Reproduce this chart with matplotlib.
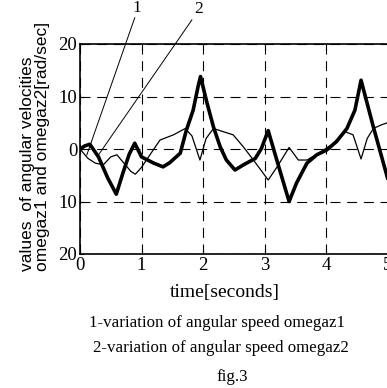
import matplotlib
matplotlib.use("Agg")
import matplotlib.pyplot as plt

# thick curve
t_thick = [0, 0.08, 0.16, 0.3, 0.45, 0.59, 0.7, 0.8, 0.89, 1.0, 1.2, 1.35, 1.46,
           1.63, 1.73, 1.84, 1.92, 1.96, 2.06, 2.17, 2.28, 2.38, 2.52, 2.66, 2.85,
           2.95, 3.06, 3.23, 3.40, 3.52, 3.69, 3.85, 4.01, 4.17, 4.34, 4.47, 4.57,
           4.77, 5.0]
w_thick = [0, 0.6, 0.9, -1.5, -5.5, -8.6, -4.5, -1.0, 1.1, -1.5, -2.7, -3.4, -2.6,
           -0.8, 3.6, 7.4, 11.9, 13.8, 9.0, 4.2, 0.4, -2.1, -4.0, -3.0, -1.8,
           0.1, 3.5, -3.3, -10.0, -6.5, -2.7, -1.1, -0.2, 1.4, 3.9, 7.4, 13.1,
           4.2, -5.5]

# thin curve
t_thin = [0, 0.13, 0.25, 0.38, 0.5, 0.6, 0.7, 0.83, 0.9, 1.0, 1.08, 1.3, 1.52,
          1.71, 1.82, 1.95, 2.05, 2.17, 2.49, 2.65, 2.82, 3.06, 3.2, 3.40, 3.55,
          3.69, 3.88, 4.09, 4.31, 4.44, 4.57, 4.67, 4.77, 4.9, 5.0]
w_thin = [0, -1.8, -2.7, -3.0, -1.5, -1.1, -2.5, -4.3, -4.8, -3.5, -2.1, 1.7, 2.7,
          3.9, 2.5, -2.1, 2.0, 3.9, 2.7, 0.5, -2.1, -5.9, -3.5, 0.3, -2.1,
          -2.1, -0.8, 0.8, 3.3, 2.7, -1.9, 2.0, 3.9, 4.6, 5.0]

x_ticks = [0, 1, 2, 3, 4, 5]
y_ticks = [-20, -10, 0, 10, 20]
y_tick_labels = ["20", "10", "0", "10", "20"]

# leader lines: (label, label pos, line start, line end) in data units
leaders = [("1", (0.93, 25.4), (0.89, 25.0), (0.11, -1.15)),
           ("2", (1.93, 25.2), (1.82, 24.6), (0.29, -1.3))]

serif = "Liberation Serif"
sans = "Liberation Sans"

fig = plt.figure(figsize=(3.87, 3.88), dpi=100)
ax = fig.add_axes([80 / 387, 1 - 254 / 388, 307.5 / 387, 210 / 388])

ax.plot(t_thick, w_thick, color="black", lw=2.6, solid_joinstyle="round")
ax.plot(t_thin, w_thin, color="black", lw=0.9)

ax.set_xlim(0, 5)
ax.set_ylim(-20, 20)
ax.set_xticks(x_ticks)
ax.set_yticks(y_ticks)
ax.set_yticklabels(y_tick_labels)
ax.grid(True, color="black", linestyle=(0, (9, 6)), lw=0.8)
ax.tick_params(direction="in", length=3, width=0.8, pad=2)
for lab in ax.get_xticklabels() + ax.get_yticklabels():
    lab.set_fontfamily(serif)
    lab.set_fontsize(13.5)
for s in ax.spines.values():
    s.set_linewidth(1.2)
ax.spines["right"].set_visible(False)

for name, lpos, p0, p1 in leaders:
    ax.plot([p0[0], p1[0]], [p0[1], p1[1]], color="black", lw=0.7, clip_on=False)
    ax.text(lpos[0], lpos[1], name, fontfamily=serif, fontsize=12.5,
            ha="center", va="bottom")

fig.text(28 / 387, 1 - 271 / 388, "values  of angular velocities", rotation=90,
         fontfamily=sans, fontsize=12.5, ha="center", va="bottom")
fig.text(43 / 387, 1 - 271 / 388, "omegaz1 and omegaz2[rad/sec]", rotation=90,
         fontfamily=sans, fontsize=12.5, ha="center", va="bottom")

fig.text(225 / 387, 1 - 292 / 388, "time[seconds]", fontfamily=serif,
         fontsize=14, ha="center", va="center")
fig.text(217 / 387, 1 - 323 / 388, "1-variation of angular speed omegaz1",
         fontfamily=serif, fontsize=12.2, ha="center", va="center")
fig.text(221 / 387, 1 - 348 / 388, "2-variation of angular speed omegaz2",
         fontfamily=serif, fontsize=12.2, ha="center", va="center")
fig.text(232 / 387, 1 - 377 / 388, "fig.3", fontfamily=serif,
         fontsize=12.2, ha="center", va="center")

fig.savefig("out.png", dpi=100)
